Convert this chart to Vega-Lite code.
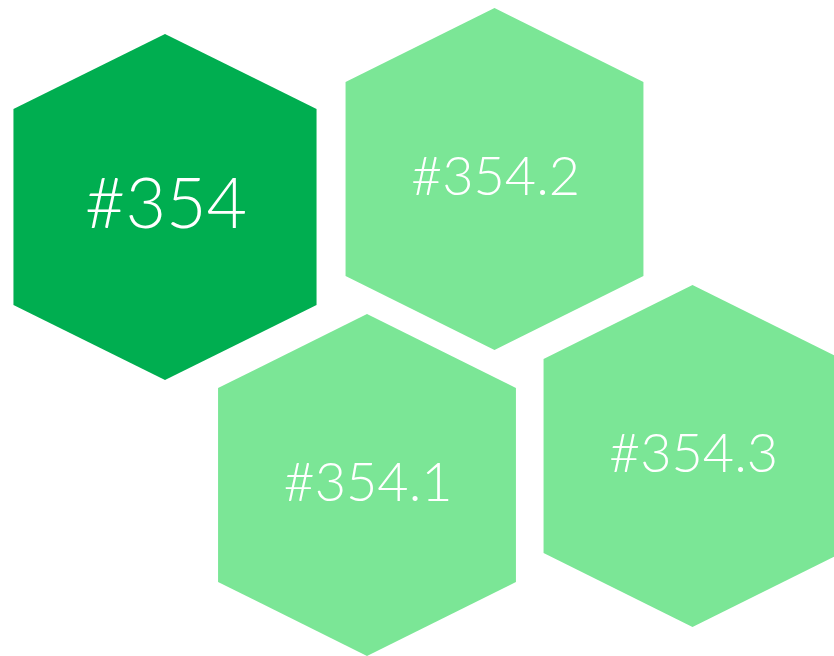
{
  "$schema": "https://vega.github.io/schema/vega-lite/v6.json",
  "width": 834,
  "height": 656,
  "autosize": "none",
  "padding": 0,
  "background": "white",
  "config": {"view": {"stroke": null}},
  "data": {
    "values": [
      {"label": "#354", "kind": "main", "cx": 165, "cy": 207},
      {"label": "#354.2", "kind": "sub", "cx": 494.5, "cy": 179},
      {"label": "#354.1", "kind": "sub", "cx": 367, "cy": 485},
      {"label": "#354.3", "kind": "sub", "cx": 692.5, "cy": 456}
    ]
  },
  "encoding": {
    "x": {"field": "cx", "type": "quantitative", "scale": {"domain": [0, 834], "nice": false, "zero": false}, "axis": null},
    "y": {"field": "cy", "type": "quantitative", "scale": {"domain": [0, 656], "nice": false, "zero": false, "reverse": true}, "axis": null}
  },
  "layer": [
    {
      "transform": [{"filter": "datum.kind === 'main'"}],
      "mark": {"type": "point", "filled": true, "opacity": 1, "strokeWidth": 0, "size": 119716, "color": "#00AE50",
        "shape": "M0,-1L0.876,-0.566L0.876,0.566L0,1L-0.876,0.566L-0.876,-0.566Z"}
    },
    {
      "transform": [{"filter": "datum.kind === 'sub'"}],
      "mark": {"type": "point", "filled": true, "opacity": 1, "strokeWidth": 0, "size": 116964, "color": "#7BE696",
        "shape": "M0,-1L0.871,-0.567L0.871,0.567L0,1L-0.871,0.567L-0.871,-0.567Z"}
    },
    {
      "transform": [{"filter": "datum.kind === 'main'"}],
      "mark": {"type": "text", "font": "Lato", "fontWeight": 300, "fontSize": 70, "color": "white", "align": "center", "baseline": "middle", "dx": 1},
      "encoding": {"text": {"field": "label"}}
    },
    {
      "transform": [{"filter": "datum.kind === 'sub'"}],
      "mark": {"type": "text", "font": "Lato", "fontWeight": 300, "fontSize": 54, "color": "white", "align": "center", "baseline": "middle", "dx": 1},
      "encoding": {"text": {"field": "label"}}
    }
  ]
}
